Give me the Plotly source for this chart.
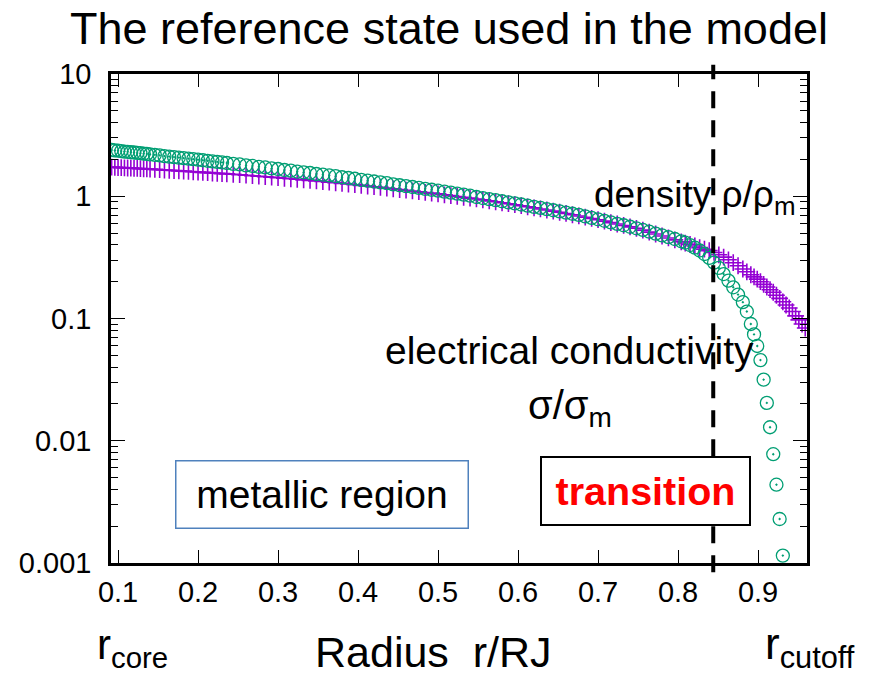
import plotly.graph_objects as go

# Radial grid r/R_J (denser toward both boundaries)
radius = [
    0.092, 0.096, 0.100, 0.104, 0.108, 0.112, 0.116, 0.120, 0.124, 0.128, 0.132, 0.136, 0.140,
    0.146, 0.152, 0.158, 0.164, 0.170, 0.176, 0.182, 0.188, 0.194, 0.200, 0.206, 0.212, 0.218,
    0.224, 0.230, 0.236,
    0.244, 0.252, 0.260, 0.268, 0.276, 0.284, 0.292, 0.300, 0.308, 0.316, 0.324, 0.332, 0.340,
    0.348, 0.356, 0.364, 0.372, 0.380, 0.388, 0.396, 0.404, 0.412, 0.420, 0.428, 0.436, 0.444,
    0.452, 0.460, 0.468, 0.476, 0.484, 0.492, 0.500, 0.508, 0.516, 0.524, 0.532, 0.540, 0.548,
    0.556, 0.564, 0.572, 0.580, 0.588, 0.596, 0.604, 0.612, 0.620, 0.628, 0.636, 0.644, 0.652,
    0.660, 0.668, 0.676, 0.684, 0.692, 0.700, 0.708, 0.716, 0.724, 0.732, 0.740, 0.748, 0.756,
    0.764, 0.772, 0.780, 0.788, 0.796, 0.804,
    0.809, 0.815, 0.821, 0.827, 0.833, 0.839, 0.845, 0.851, 0.857, 0.863, 0.869, 0.875, 0.881,
    0.886,
    0.891, 0.895, 0.899, 0.903, 0.907, 0.911, 0.915, 0.919, 0.923, 0.927, 0.931, 0.935, 0.939,
    0.943, 0.947, 0.951, 0.955, 0.959,
]

# Density rho/rho_m
density = [
    1.730, 1.725, 1.719, 1.714, 1.709, 1.703, 1.698, 1.693, 1.688, 1.683, 1.678, 1.672, 1.667,
    1.658, 1.649, 1.640, 1.631, 1.622, 1.613, 1.604, 1.595, 1.586, 1.578, 1.569, 1.560, 1.550,
    1.541, 1.532, 1.524,
    1.512, 1.500, 1.486, 1.472, 1.459, 1.445, 1.432, 1.419, 1.404, 1.390, 1.376, 1.362, 1.348,
    1.334, 1.319, 1.303, 1.288, 1.273, 1.258, 1.243, 1.228, 1.212, 1.197, 1.181, 1.166, 1.151,
    1.136, 1.121, 1.105, 1.089, 1.074, 1.060, 1.045, 1.028, 1.012, 0.996, 0.981, 0.965, 0.950,
    0.934, 0.917, 0.901, 0.885, 0.869, 0.853, 0.837, 0.820, 0.804, 0.787, 0.772, 0.756, 0.740,
    0.723, 0.706, 0.690, 0.674, 0.658, 0.643, 0.626, 0.609, 0.593, 0.577, 0.562, 0.547, 0.528,
    0.509, 0.491, 0.473, 0.456, 0.440, 0.424,
    0.414, 0.403, 0.392, 0.380, 0.369, 0.359, 0.347, 0.332, 0.318, 0.302, 0.286, 0.270, 0.254,
    0.241,
    0.228, 0.219, 0.210, 0.200, 0.190, 0.181, 0.172, 0.164, 0.155, 0.146, 0.137, 0.129, 0.122,
    0.114, 0.105, 0.0974, 0.0902, 0.0836,
]

# Electrical conductivity sigma/sigma_m
conductivity = [
    2.39, 2.37, 2.36, 2.34, 2.32, 2.31, 2.29, 2.28, 2.26, 2.25, 2.23, 2.22, 2.20,
    2.18, 2.16, 2.13, 2.11, 2.09, 2.07, 2.05, 2.03, 2.01, 1.99, 1.97, 1.95, 1.93,
    1.91, 1.89, 1.87,
    1.84, 1.82, 1.79, 1.77, 1.74, 1.72, 1.69, 1.67, 1.64, 1.62, 1.59, 1.57, 1.55,
    1.52, 1.50, 1.48, 1.46, 1.43, 1.41, 1.39, 1.36, 1.34, 1.32, 1.30, 1.28, 1.25,
    1.23, 1.21, 1.19, 1.17, 1.15, 1.13, 1.11, 1.09, 1.07, 1.05, 1.03, 1.01, 0.986,
    0.967, 0.947, 0.928, 0.910, 0.892, 0.874, 0.856, 0.837, 0.819, 0.802, 0.785, 0.768, 0.751,
    0.735, 0.719, 0.704, 0.685, 0.666, 0.648, 0.630, 0.612, 0.595, 0.579, 0.563, 0.547, 0.530,
    0.513, 0.495, 0.479, 0.463, 0.447, 0.428,
    0.417, 0.399, 0.380, 0.360, 0.337, 0.313, 0.286, 0.259, 0.231, 0.204, 0.180, 0.157, 0.136,
    0.114,
    0.0902, 0.0741, 0.0596, 0.0457, 0.0316, 0.0204, 0.0129, 0.00776, 0.00437, 0.00229, 0.00115,
    0.000537, 0.000234, 0.0000955, 0.0000355, 0.0000120, 0.00000355, 0.00000089,
]

# Boundary between metallic region and transition layer
transition_r = 0.844

x_tick_vals = [0.1, 0.2, 0.3, 0.4, 0.5, 0.6, 0.7, 0.8, 0.9]
x_tick_text = ["0.1", "0.2", "0.3", "0.4", "0.5", "0.6", "0.7", "0.8", "0.9"]
y_tick_vals = [0.001, 0.01, 0.1, 1, 10]
y_tick_text = ["0.001", "0.01", "0.1", "1", "10"]
y_minor_vals = [k * 10.0 ** d for d in range(-3, 1) for k in range(2, 10)]

FONT = "Liberation Sans, Arial, Helvetica, sans-serif"
W, H = 872, 675
L, R, T, B = 111, 65, 74, 112
PW, PH = W - L - R, H - T - B


def px(x):
    return (x - L) / PW


def py(y):
    return (H - B - y) / PH


fig = go.Figure()

fig.add_trace(go.Scatter(
    x=radius, y=density, mode="markers", name="density",
    marker=dict(symbol="cross-thin-open", size=12, color="#9400D3",
                line=dict(color="#9400D3", width=1.6)),
    hoverinfo="skip",
))
fig.add_trace(go.Scatter(
    x=radius, y=conductivity, mode="markers", name="conductivity",
    marker=dict(symbol="circle-open-dot", size=13, color="#009E73",
                line=dict(color="#009E73", width=1.3)),
    hoverinfo="skip",
))

fig.add_shape(type="line", xref="x", yref="paper",
              x0=transition_r, x1=transition_r, y0=-0.019, y1=1.019,
              line=dict(color="black", width=4, dash="17px,12px"))

ann = []
ann.append(dict(text="The reference state used in the model", x=px(449), y=py(28),
                xanchor="center", yanchor="middle", font=dict(size=45)))
ann.append(dict(text="density ρ/ρ<sub>m</sub>", x=px(592), y=py(197),
                xanchor="left", yanchor="middle", font=dict(size=37)))
ann.append(dict(text="electrical conductivity", x=px(569.5), y=py(350),
                xanchor="center", yanchor="middle", font=dict(size=39)))
ann.append(dict(text="σ/σ<sub>m</sub>", x=px(569.5), y=py(408),
                xanchor="center", yanchor="middle", font=dict(size=40)))
ann.append(dict(text="metallic region", x=px(321.5), y=py(494),
                xanchor="center", yanchor="middle", width=291, height=66,
                borderpad=0, bordercolor="#4F81BD", borderwidth=1.5,
                bgcolor="white", font=dict(size=39)))
ann.append(dict(text="<b>transition</b>", x=px(645.5), y=py(491),
                xanchor="center", yanchor="middle", width=207, height=66,
                borderpad=0, bordercolor="black", borderwidth=2,
                bgcolor="white", font=dict(size=39.5, color="#FF0000")))
ann.append(dict(text="r<sub>core</sub>", x=px(95), y=py(647),
                xanchor="left", yanchor="middle", font=dict(size=42)))
ann.append(dict(text="Radius  r/RJ", x=px(433.5), y=py(652),
                xanchor="center", yanchor="middle", font=dict(size=43)))
ann.append(dict(text="r<sub>cutoff</sub>", x=px(763), y=py(647),
                xanchor="left", yanchor="middle", font=dict(size=44)))
for a in ann:
    a.update(xref="paper", yref="paper", showarrow=False)
    a["font"].setdefault("color", "black")
    a["font"]["family"] = FONT

axis_common = dict(
    showline=True, linecolor="black", linewidth=2.5, mirror="ticks",
    ticks="inside", tickcolor="black", tickwidth=1.3,
    showgrid=False, zeroline=False,
    tickfont=dict(family=FONT, size=29, color="black"),
)

fig.update_layout(
    width=W, height=H, autosize=False,
    margin=dict(l=L, r=R, t=T, b=B, pad=0),
    paper_bgcolor="white", plot_bgcolor="white",
    showlegend=False,
    annotations=ann,
    xaxis=dict(range=[0.0912, 0.9612], tickmode="array", tickvals=x_tick_vals,
               ticktext=x_tick_text, ticklen=13, ticklabelstandoff=1, **axis_common),
    yaxis=dict(type="log", range=[-3, 1], tickmode="array", tickvals=y_tick_vals,
               ticktext=y_tick_text, ticklen=14, ticklabelstandoff=11,
               minor=dict(tickmode="array", tickvals=y_minor_vals, ticks="inside",
                          ticklen=7, tickwidth=1.3, tickcolor="black", showgrid=False),
               **axis_common),
)

fig.write_html("out.html")
